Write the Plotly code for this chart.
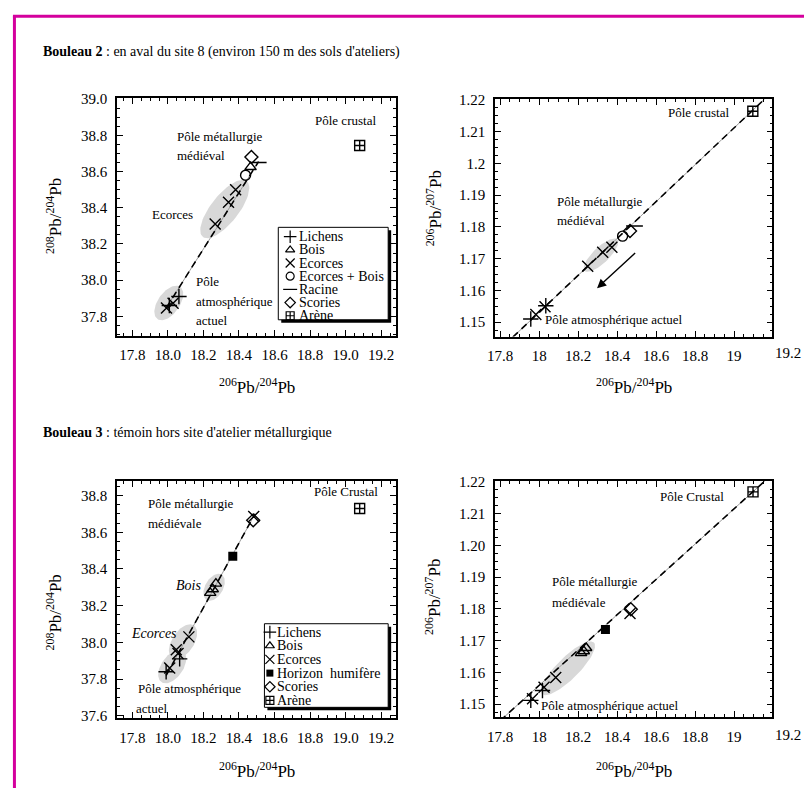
import numpy as np
import plotly.graph_objects as go

W, H = 804, 794
FONT = "'Liberation Serif', 'Times New Roman', Times, 'DejaVu Serif', serif"

# ---------------- DATA ----------------
# Panel 1 : Bouleau 2, 208Pb/204Pb vs 206Pb/204Pb
p1_lichens_x = [18.062, 18.008]
p1_lichens_y = [37.91, 37.86]
p1_bois_x = [18.465]
p1_bois_y = [38.625]
p1_ecorces_x = [18.381, 18.341, 18.266, 18.029, 17.992]
p1_ecorces_y = [38.50, 38.43, 38.31, 37.873, 37.846]
p1_ecbois_x = [18.437]
p1_ecbois_y = [38.58]
p1_racine_x = [18.508]
p1_racine_y = [38.65]
p1_scories_x = [18.470]
p1_scories_y = [38.68]
p1_arene_x = [19.079]
p1_arene_y = [38.744]
p1_mix_x = [17.99, 18.51]
p1_mix_y = [37.846, 38.655]

# Panel 2 : Bouleau 2, 206Pb/207Pb vs 206Pb/204Pb
p2_lichens_x = [18.034, 17.957]
p2_lichens_y = [1.1552, 1.1510]
p2_ecorces_x = [18.373, 18.326, 18.249, 18.030, 17.983]
p2_ecorces_y = [1.1736, 1.1720, 1.1676, 1.1549, 1.1524]
p2_ecbois_x = [18.428]
p2_ecbois_y = [1.1771]
p2_scories_x = [18.466]
p2_scories_y = [1.1787]
p2_racine_x = [18.489]
p2_racine_y = [1.1803]
p2_arene_x = [19.096]
p2_arene_y = [1.2164]
p2_mix_x = [17.82, 19.18]
p2_mix_y = [1.1427, 1.2216]
p2_arrow_from = (18.50, 1.1722)
p2_arrow_to = (18.297, 1.1607)

# Panel 3 : Bouleau 3, 208Pb/204Pb vs 206Pb/204Pb
p3_lichens_x = [18.066, 17.990]
p3_lichens_y = [37.91, 37.84]
p3_bois_x = [18.270, 18.252, 18.238]
p3_bois_y = [38.32, 38.29, 38.27]
p3_ecorces_x = [18.483, 18.118, 18.047, 18.057, 18.010]
p3_ecorces_y = [38.686, 38.03, 37.96, 37.94, 37.86]
p3_horizon_x = [18.365]
p3_horizon_y = [38.47]
p3_scories_x = [18.480]
p3_scories_y = [38.665]
p3_arene_x = [19.079]
p3_arene_y = [38.73]
p3_mix_x = [17.99, 18.49]
p3_mix_y = [37.82, 38.70]

# Panel 4 : Bouleau 3, 206Pb/207Pb vs 206Pb/204Pb
p4_lichens_x = [18.017, 17.957]
p4_lichens_y = [1.1543, 1.1512]
p4_bois_x = [18.241, 18.229, 18.215]
p4_bois_y = [1.1677, 1.1667, 1.1661]
p4_ecorces_x = [18.466, 18.085, 18.025, 17.966]
p4_ecorces_y = [1.1786, 1.1584, 1.1553, 1.1517]
p4_horizon_x = [18.340]
p4_horizon_y = [1.1735]
p4_scories_x = [18.470]
p4_scories_y = [1.1799]
p4_arene_x = [19.097]
p4_arene_y = [1.2169]
p4_mix_x = [17.80, 19.18]
p4_mix_y = [1.1448, 1.2216]

# grey highlight zones: (panel, centre x, centre y)
zone_centres = [(1, 18.320, 38.393), (1, 18.005, 37.874),
                (2, 18.317, 1.1711),
                (3, 18.260, 38.300), (3, 18.085, 38.003), (3, 18.024, 37.867),
                (4, 18.148, 1.1613)]

# tick labels
x_ticks_a = [17.8, 18.0, 18.2, 18.4, 18.6, 18.8, 19.0, 19.2]
x_text_a = ["17.8", "18.0", "18.2", "18.4", "18.6", "18.8", "19.0", "19.2"]
x_ticks_b = [17.8, 18.0, 18.2, 18.4, 18.6, 18.8, 19.0]
x_text_b = ["17.8", "18", "18.2", "18.4", "18.6", "18.8", "19"]
x_text_b_extra = "19.2"
y_ticks_1 = [37.8, 38.0, 38.2, 38.4, 38.6, 38.8, 39.0]
y_text_1 = ["37.8", "38.0", "38.2", "38.4", "38.6", "38.8", "39.0"]
y_ticks_2 = [1.15, 1.16, 1.17, 1.18, 1.19, 1.20, 1.21, 1.22]
y_text_2 = ["1.15", "1.16", "1.17", "1.18", "1.19", "1.2", "1.21", "1.22"]
y_ticks_3 = [37.6, 37.8, 38.0, 38.2, 38.4, 38.6, 38.8]
y_text_3 = ["37.6", "37.8", "38.0", "38.2", "38.4", "38.6", "38.8"]
y_text_4 = ["1.15", "1.16", "1.17", "1.18", "1.19", "1.20", "1.21", "1.22"]

legend1_labels = ["Lichens", "Bois", "Ecorces", "Ecorces + Bois", "Racine", "Scories", "Arène"]
legend3_labels = ["Lichens", "Bois", "Ecorces", "Horizon\u00a0 humifère", "Scories", "Arène"]

# ---------------- STYLE / LAYOUT ----------------
SYM = {"Lichens": ("cross-thin-open", 11), "Bois": ("triangle-up-open", 10),
       "Ecorces": ("x-thin-open", 11), "Ecorces + Bois": ("circle-open", 10),
       "Racine": ("line-ew-open", 12), "Scories": ("diamond-open", 10),
       "Arène": ("square-cross-open", 10), "Horizon\u00a0 humifère": ("square", 9)}

# frame boxes in pixels (left, right, top, bottom) and axis ranges
panels = {
    1: dict(box=(110, 392, 93, 334), xr=[17.713, 19.284], yr=[37.694, 39.004]),
    2: dict(box=(492, 772, 94, 335), xr=[17.774, 19.196], yr=[1.1455, 1.2201]),
    3: dict(box=(110, 392, 482, 723), xr=[17.713, 19.284], yr=[37.587, 38.879]),
    4: dict(box=(492, 772, 482, 722), xr=[17.774, 19.196], yr=[1.1459, 1.2203]),
}
zone_shape = {  # semi-major px, semi-minor px, angle deg, per zone index
    0: (36, 14, 52), 1: (20, 11, 55), 2: (23, 8, 44),
    3: (15, 9, 60), 4: (20, 11, 57), 5: (19, 11, 55), 6: (37, 11, 45)}


def scale(p):
    l, r, t, b = panels[p]["box"]
    xr, yr = panels[p]["xr"], panels[p]["yr"]
    return (r - l) / (xr[1] - xr[0]), (b - t) / (yr[1] - yr[0])


fig = go.Figure()


def ax_names(p):
    return ("x" if p == 1 else f"x{p}"), ("y" if p == 1 else f"y{p}")


# zones
for i, (p, cx, cy) in enumerate(zone_centres):
    a, b, ang = zone_shape[i]
    sx, sy = scale(p)
    t = np.linspace(0, 2 * np.pi, 80)
    th = np.radians(ang)
    dx = a * np.cos(t) * np.cos(th) - b * np.sin(t) * np.sin(th)
    dy = a * np.cos(t) * np.sin(th) + b * np.sin(t) * np.cos(th)
    xa, ya = ax_names(p)
    fig.add_trace(go.Scatter(x=cx + dx / sx, y=cy + dy / sy, mode="lines", fill="toself",
                             fillcolor="#d8d8d8", line=dict(width=0, color="#d8d8d8"),
                             xaxis=xa, yaxis=ya, hoverinfo="skip"))

# mixing lines
for p, mx, my in [(1, p1_mix_x, p1_mix_y), (2, p2_mix_x, p2_mix_y),
                  (3, p3_mix_x, p3_mix_y), (4, p4_mix_x, p4_mix_y)]:
    xa, ya = ax_names(p)
    fig.add_trace(go.Scatter(x=mx, y=my, mode="lines", line=dict(color="#9a9a9a", width=1),
                             xaxis=xa, yaxis=ya, hoverinfo="skip"))
    fig.add_trace(go.Scatter(x=mx, y=my, mode="lines",
                             line=dict(color="black", width=1.6, dash="7px,5px"),
                             xaxis=xa, yaxis=ya, hoverinfo="skip"))

series = [
    (1, "Ecorces + Bois", p1_ecbois_x, p1_ecbois_y), (1, "Bois", p1_bois_x, p1_bois_y),
    (1, "Racine", p1_racine_x, p1_racine_y), (1, "Scories", p1_scories_x, p1_scories_y),
    (1, "Arène", p1_arene_x, p1_arene_y), (1, "Ecorces", p1_ecorces_x, p1_ecorces_y),
    (1, "Lichens", p1_lichens_x, p1_lichens_y),
    (2, "Ecorces + Bois", p2_ecbois_x, p2_ecbois_y), (2, "Scories", p2_scories_x, p2_scories_y),
    (2, "Racine", p2_racine_x, p2_racine_y), (2, "Arène", p2_arene_x, p2_arene_y),
    (2, "Ecorces", p2_ecorces_x, p2_ecorces_y), (2, "Lichens", p2_lichens_x, p2_lichens_y),
    (3, "Bois", p3_bois_x, p3_bois_y), (3, "Horizon\u00a0 humifère", p3_horizon_x, p3_horizon_y),
    (3, "Scories", p3_scories_x, p3_scories_y), (3, "Arène", p3_arene_x, p3_arene_y),
    (3, "Ecorces", p3_ecorces_x, p3_ecorces_y), (3, "Lichens", p3_lichens_x, p3_lichens_y),
    (4, "Bois", p4_bois_x, p4_bois_y), (4, "Horizon\u00a0 humifère", p4_horizon_x, p4_horizon_y),
    (4, "Scories", p4_scories_x, p4_scories_y), (4, "Arène", p4_arene_x, p4_arene_y),
    (4, "Ecorces", p4_ecorces_x, p4_ecorces_y), (4, "Lichens", p4_lichens_x, p4_lichens_y),
]


def marker(name, shrink=0, lw=1.4):
    s, sz = SYM[name]
    if s == "square":
        return dict(symbol=s, size=sz - shrink, color="black", line=dict(width=0))
    return dict(symbol=s, size=sz - shrink, color="black", line=dict(width=lw, color="black"))


for p, name, xs, ys in series:
    xa, ya = ax_names(p)
    fig.add_trace(go.Scatter(x=xs, y=ys, mode="markers", marker=marker(name),
                             xaxis=xa, yaxis=ya, name=name))

# legends (pixel overlay axis)
shapes = []
annotations = []


def txt(text, x, y, xanchor="left", size=13, angle=0, yanchor="middle"):
    annotations.append(dict(text=text, x=x / W, y=1 - y / H, xref="paper", yref="paper",
                            xanchor=xanchor, yanchor=yanchor, showarrow=False, textangle=angle,
                            font=dict(family=FONT, size=size, color="black")))


def legend(labels, box, first_row, step, sym_x, text_x):
    l, t, r, b = box
    shapes.append(dict(type="rect", xref="paper", yref="paper", x0=(l + 3) / W, x1=(r + 3) / W,
                       y0=1 - (b + 3) / H, y1=1 - (t + 3) / H, fillcolor="black",
                       line=dict(width=0), layer="below"))
    shapes.append(dict(type="rect", xref="paper", yref="paper", x0=l / W, x1=r / W,
                       y0=1 - b / H, y1=1 - t / H, fillcolor="white",
                       line=dict(width=1, color="black"), layer="below"))
    for i, lab in enumerate(labels):
        yy = first_row + i * step
        fig.add_trace(go.Scatter(x=[sym_x], y=[yy], mode="markers", marker=marker(lab, 2, 1.2),
                                 xaxis="x5", yaxis="y5", hoverinfo="skip"))
        txt(lab, text_x, yy, size=14)


legend(legend1_labels, (273, 224, 384, 318), 233.5, 13.4, 285, 292)
legend(legend3_labels, (259, 627, 384, 712), 635.5, 13.9, 264.5, 270)

# in-plot labels
txt("Pôle crustal", 341, 115, "center")
txt("Pôle métallurgie", 169, 132)
txt("médiéval", 169, 151)
txt("Ecorces", 143, 211)
txt("Pôle", 188, 279)
txt("atmosphérique", 188, 299)
txt("actuel", 188, 319)

txt("Pôle crustal", 697, 107, "center")
txt("Pôle métallurgie", 552, 198)
txt("médiéval", 552, 217)
txt("Pôle atmosphérique actuel", 540, 318)

txt("Pôle Crustal", 341, 493, "center")
txt("Pôle métallurgie", 139, 505)
txt("médiévale", 139, 525)
txt("<i>Bois</i>", 168, 588, size=14)
txt("<i>Ecorces</i>", 122, 637, size=14)
txt("Pôle atmosphérique", 129, 693)
txt("actuel", 127, 713)

txt("Pôle Crustal", 691, 498, "center")
txt("Pôle métallurgie", 547, 584)
txt("médiévale", 547, 605)
txt("Pôle atmosphérique actuel", 536, 710)

# section titles
txt("<b>Bouleau 2</b> : en aval du site 8 (environ 150 m des sols d'ateliers)", 33, 46, size=14)
txt("<b>Bouleau 3</b> : témoin hors site d'atelier métallurgique", 33, 433, size=14)

# axis titles
xt = "<sup>206</sup>Pb/<sup>204</sup>Pb"
txt(xt, 251, 385, "center", size=17)
txt(xt, 632, 385, "center", size=17)
txt(xt, 251, 776, "center", size=17)
txt(xt, 632, 776, "center", size=17)
txt("<sup>208</sup>Pb/<sup>204</sup>Pb", 46, 213, "center", size=17, angle=-90)
txt("<sup>206</sup>Pb/<sup>207</sup>Pb", 430, 205, "center", size=17, angle=-90)
txt("<sup>208</sup>Pb/<sup>204</sup>Pb", 46, 616, "center", size=17, angle=-90)
txt("<sup>206</sup>Pb/<sup>207</sup>Pb", 429, 600, "center", size=17, angle=-90)

# off-frame tick label for right panels
txt(x_text_b_extra, 788, 342, "center", size=15, yanchor="top")
txt(x_text_b_extra, 788, 730, "center", size=15, yanchor="top")

# arrow in panel 2
annotations.append(dict(x=p2_arrow_to[0], y=p2_arrow_to[1], ax=p2_arrow_from[0], ay=p2_arrow_from[1],
                        xref="x2", yref="y2", axref="x2", ayref="y2", text="", showarrow=True,
                        arrowhead=2, arrowsize=1.3, arrowwidth=1.4, arrowcolor="black"))

# magenta frame
shapes.append(dict(type="line", xref="paper", yref="paper", x0=6.5 / W, x1=6.5 / W,
                   y0=0, y1=1 - 9 / H, line=dict(color="#d4009d", width=3)))
shapes.append(dict(type="line", xref="paper", yref="paper", x0=5 / W, x1=1,
                   y0=1 - 9.5 / H, y1=1 - 9.5 / H, line=dict(color="#d4009d", width=3)))


def axis(p, letter, tickvals, ticktext, minor):
    l, r, t, b = panels[p]["box"]
    if letter == "x":
        dom = [l / W, r / W]
        rng = panels[p]["xr"]
        anchor = ax_names(p)[1]
    else:
        dom = [1 - b / H, 1 - t / H]
        rng = panels[p]["yr"]
        anchor = ax_names(p)[0]
    return dict(domain=dom, range=rng, anchor=anchor, showline=True, linecolor="black",
                linewidth=1.5, mirror="allticks", ticks="inside", ticklen=6, tickwidth=1,
                tickcolor="black", tickmode="array", tickvals=tickvals, ticktext=ticktext,
                tickfont=dict(family=FONT, size=15, color="black"), showgrid=False,
                zeroline=False, ticklabelstandoff=5, fixedrange=True,
                minor=dict(dtick=minor, tick0=tickvals[0], ticks="inside", ticklen=3,
                           tickwidth=1, tickcolor="black", showgrid=False))


layout = dict(
    width=W, height=H, margin=dict(l=0, r=0, t=0, b=0), paper_bgcolor="white",
    plot_bgcolor="rgba(0,0,0,0)", showlegend=False, shapes=shapes, annotations=annotations,
    font=dict(family=FONT),
    xaxis=axis(1, "x", x_ticks_a, x_text_a, 0.05), yaxis=axis(1, "y", y_ticks_1, y_text_1, 0.05),
    xaxis2=axis(2, "x", x_ticks_b, x_text_b, 0.05), yaxis2=axis(2, "y", y_ticks_2, y_text_2, 0.0025),
    xaxis3=axis(3, "x", x_ticks_a, x_text_a, 0.05), yaxis3=axis(3, "y", y_ticks_3, y_text_3, 0.05),
    xaxis4=axis(4, "x", x_ticks_b, x_text_b, 0.05), yaxis4=axis(4, "y", y_ticks_2, y_text_4, 0.0025),
    xaxis5=dict(domain=[0, 1], range=[0, W], visible=False, anchor="y5", fixedrange=True),
    yaxis5=dict(domain=[0, 1], range=[H, 0], visible=False, anchor="x5", fixedrange=True),
)
fig.update_layout(**layout)
fig.write_html("out.html", config={"displayModeBar": False},
               post_script="document.body.style.margin='0';document.body.style.padding='0';")
